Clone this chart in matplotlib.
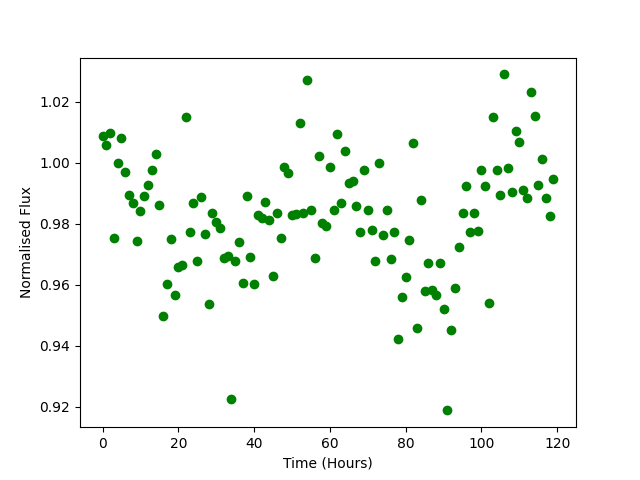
import matplotlib
matplotlib.use("Agg")
import matplotlib.pyplot as plt
import numpy as np

hours = list(range(120))
flux = [
    1.0088, 1.0057, 1.0097, 0.9752, 0.9999, 1.0083, 0.9970, 0.9896, 0.9867, 0.9742,
    0.9841, 0.9891, 0.9926, 0.9976, 1.0028, 0.9861, 0.9496, 0.9601, 0.9750, 0.9565,
    0.9657, 0.9664, 1.0149, 0.9772, 0.9867, 0.9677, 0.9888, 0.9765, 0.9536, 0.9837,
    0.9805, 0.9785, 0.9687, 0.9693, 0.9224, 0.9677, 0.9739, 0.9605, 0.9890, 0.9690,
    0.9602, 0.9830, 0.9819, 0.9873, 0.9811, 0.9628, 0.9837, 0.9755, 0.9987, 0.9967,
    0.9828, 0.9832, 1.0132, 0.9837, 1.0270, 0.9844, 0.9687, 1.0024, 0.9803, 0.9792,
    0.9986, 0.9844, 1.0096, 0.9867, 1.0038, 0.9934, 0.9939, 0.9858, 0.9772, 0.9978,
    0.9844, 0.9779, 0.9677, 1.0001, 0.9763, 0.9844, 0.9683, 0.9772, 0.9421, 0.9559,
    0.9624, 0.9746, 1.0064, 0.9458, 0.9877, 0.9579, 0.9671, 0.9583, 0.9566, 0.9673,
    0.9519, 0.9188, 0.9451, 0.9588, 0.9723, 0.9837, 0.9923, 0.9772, 0.9834, 0.9778,
    0.9978, 0.9923, 0.9540, 1.0150, 0.9978, 0.9894, 1.0290, 0.9982, 0.9903, 1.0106,
    1.0067, 0.9910, 0.9883, 1.0231, 1.0155, 0.9926, 1.0011, 0.9884, 0.9827, 0.9946,
]

fig, ax = plt.subplots(figsize=(6.4, 4.8), dpi=100)
ax.plot(hours, flux, 'o', color='green')
ax.set_xlabel('Time (Hours)')
ax.set_ylabel('Normalised Flux')
fig.savefig('out.png', dpi=100)
